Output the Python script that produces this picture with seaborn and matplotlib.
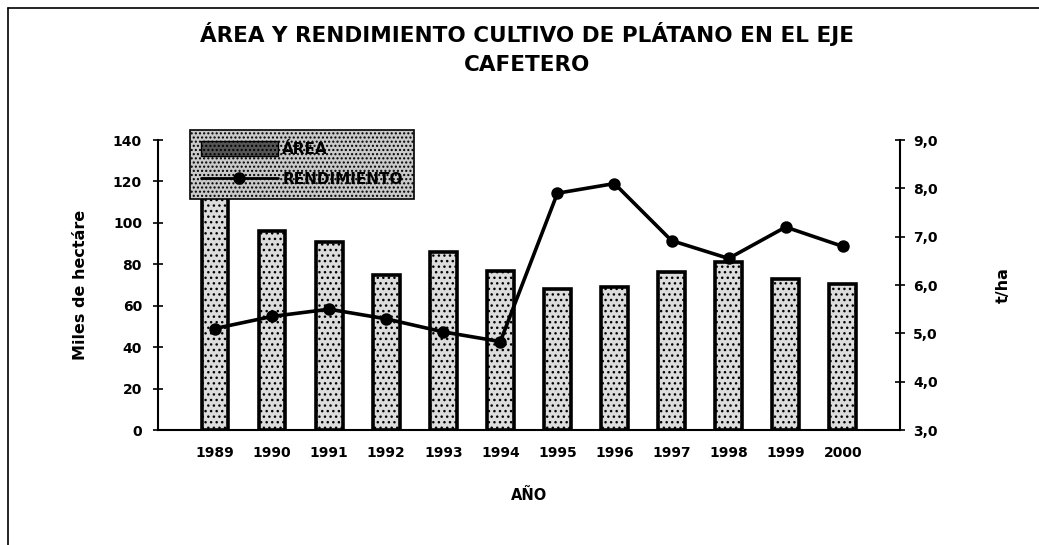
import numpy as np
import pandas as pd
import matplotlib
matplotlib.use("Agg")
import matplotlib.pyplot as plt
import seaborn as sns
from matplotlib.patches import Patch
from matplotlib.lines import Line2D

years = ["1989", "1990", "1991", "1992", "1993", "1994",
         "1995", "1996", "1997", "1998", "1999", "2000"]
area = [118, 96, 91, 75, 86, 77, 68, 69, 76.5, 81, 73, 70.5]
rendimiento = [5.1, 5.35, 5.5, 5.3, 5.03, 4.83, 7.9, 8.1, 6.92, 6.55, 7.2, 6.8]
left_ticks = [0, 20, 40, 60, 80, 100, 120, 140]
right_ticks = [3.0, 4.0, 5.0, 6.0, 7.0, 8.0, 9.0]

df = pd.DataFrame({"Año": years, "Area": area, "Rendimiento": rendimiento})

sns.set_style("white")
plt.rcParams["font.family"] = ["DejaVu Sans"]
plt.rcParams["text.color"] = "black"
plt.rcParams["axes.labelcolor"] = "black"
plt.rcParams["xtick.color"] = "black"
plt.rcParams["ytick.color"] = "black"
plt.rcParams["axes.edgecolor"] = "black"

fig = plt.figure(figsize=(10.39, 5.45), dpi=100)
ax = fig.add_axes([0.152, 0.211, 0.714, 0.532])

sns.barplot(data=df, x="Año", y="Area", ax=ax, color="#dcdcdc",
            width=0.47, edgecolor="black", linewidth=2.6, hatch="...")
ax.set_xlim(-1, 12)
ax.set_ylim(0, 140)
ax.set_yticks(left_ticks)
ax.set_yticklabels([str(t) for t in left_ticks], fontweight="bold", fontsize=10)
ax.set_xticks(range(len(years)))
ax.set_xticklabels(years, fontweight="bold", fontsize=10)
ax.tick_params(axis="both", direction="inout", length=7, width=1.2, pad=8)
ax.tick_params(axis="x", length=5, pad=9)
for s in ["top", "right"]:
    ax.spines[s].set_visible(False)
ax.spines["left"].set_linewidth(1.5)
ax.spines["bottom"].set_linewidth(1.5)
ax.set_ylabel("Miles de hectáre", fontweight="bold", fontsize=11.5, labelpad=18)
ax.set_xlabel("AÑO", fontweight="bold", fontsize=10.5, labelpad=20)

ax2 = ax.twinx()
sns.pointplot(data=df, x="Año", y="Rendimiento", ax=ax2, color="black",
              markers="o", markersize=7, linewidth=2.6)
ax2.set_xlim(-1, 12)
ax2.set_ylim(3, 9)
ax2.set_yticks(right_ticks)
ax2.set_yticklabels([f"{t:.1f}".replace(".", ",") for t in right_ticks],
                    fontweight="bold", fontsize=10)
ax2.tick_params(axis="y", direction="inout", length=7, width=1.2, pad=6)
for s in ["top", "left", "bottom"]:
    ax2.spines[s].set_visible(False)
ax2.spines["right"].set_linewidth(1.5)
ax2.set_ylabel("t/ha", fontweight="bold", fontsize=11.5, labelpad=42)
ax2.set_xlabel("")

handles = [Patch(facecolor="#555555", edgecolor="black", hatch="...."),
           Line2D([], [], color="black", marker="o", markersize=8, linewidth=2)]
leg = ax2.legend(handles, ["ÁREA", "RENDIMIENTO"], loc="upper left",
                 bbox_to_anchor=(0.043, 1.036), fancybox=False, framealpha=1,
                 prop={"weight": "bold", "size": 11}, handlelength=5,
                 handleheight=1.1, handletextpad=0.3, borderpad=0.75,
                 labelspacing=1.0, borderaxespad=0)
frame = leg.get_frame()
frame.set_facecolor("#c9c9c9")
frame.set_edgecolor("black")
frame.set_linewidth(1.2)
frame.set_hatch("....")

fig.suptitle("ÁREA Y RENDIMIENTO CULTIVO DE PLÁTANO EN EL EJE\nCAFETERO",
             x=0.507, y=0.96, fontweight="heavy", fontsize=15.5, linespacing=1.6)

fig.add_artist(Line2D([8 / 1039, 8 / 1039], [0, 1 - 8 / 545], color="black", linewidth=1.2))
fig.add_artist(Line2D([8 / 1039, 1], [1 - 8 / 545, 1 - 8 / 545], color="black", linewidth=1.2))

fig.savefig("out.png", dpi=100)
